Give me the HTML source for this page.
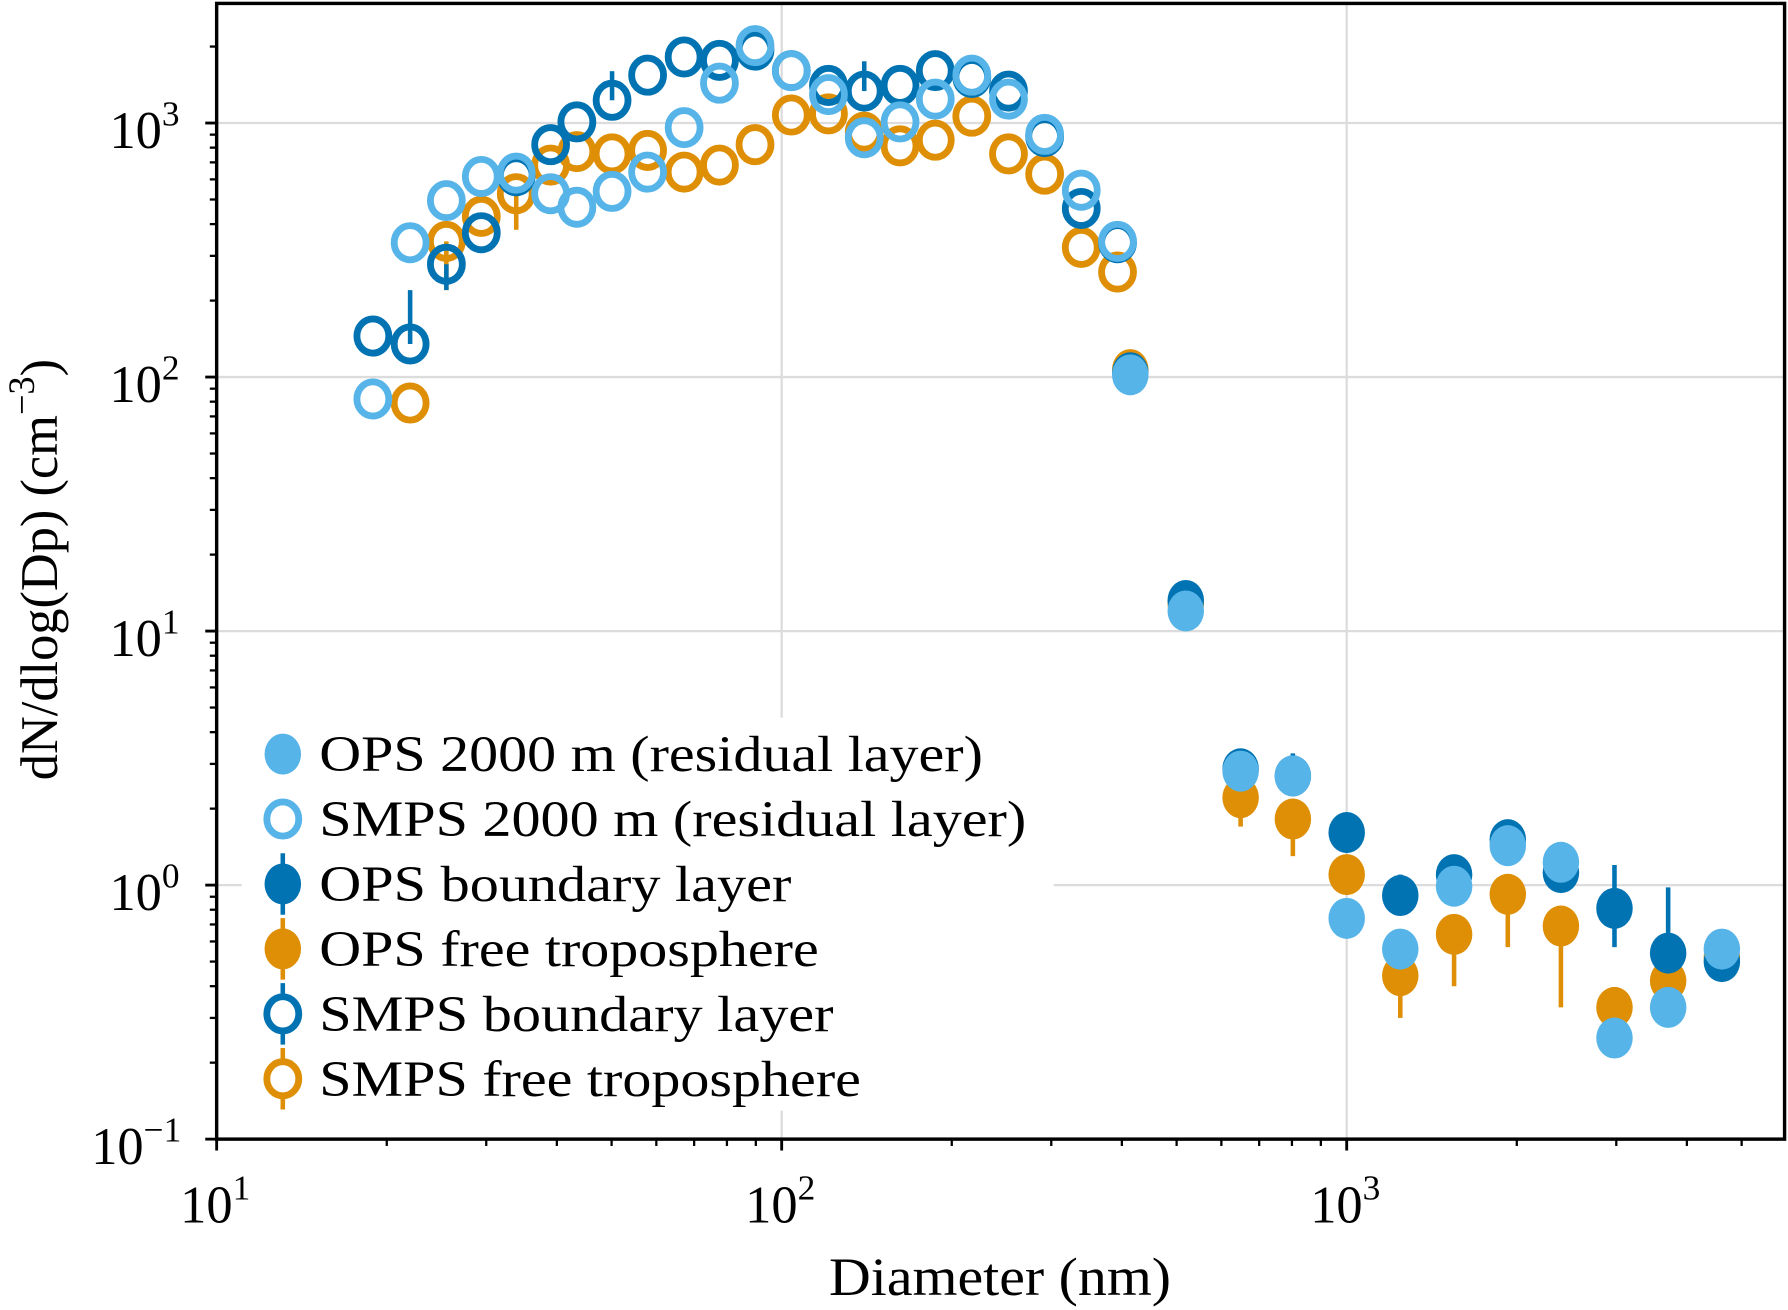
<!DOCTYPE html>
<html><head><meta charset="utf-8"><style>
html,body{margin:0;padding:0;background:#fff;}
svg{display:block;}
text{font-family:"Liberation Serif",serif;fill:#000;}
</style></head><body>
<svg id="chart" width="1788" height="1310" viewBox="0 0 1568 1150" preserveAspectRatio="none" xmlns="http://www.w3.org/2000/svg">
<g id="grid"></g>
<g id="marks"></g>
<g id="legend"></g>
<g id="axes"></g>
</svg>
<script>
const smpsD=[18.9,22.0,25.5,29.4,33.9,39.0,43.4,50.1,57.9,67.2,77.6,89.7,104,121,140,162,187,217,252,292,339,393];
const smpsBL=[145,135,278,370,620,822,1010,1229,1543,1820,1765,1936,1608,1406,1336,1406,1608,1511,1336,884,461,338];
const smpsRL=[82,338,495,616,635,527,466,538,641,959,1435,2018,1608,1294,875,1010,1242,1543,1242,902,544,342];
const smpsFT=[null,79,342,429,527,683,772,756,780,641,683,822,1075,1087,921,813,856,1064,756,629,324,259];
const smpsBLlo=[null,null,220,null,null,null,null,null,null,null,null,null,null,null,null,null,null,null,null,null,null,null];
const smpsBLhi=[null,220,null,null,null,null,null,1600,null,null,null,null,null,null,1750,null,null,null,null,null,null,null];
const smpsFTlo=[null,null,220,null,380,null,null,null,null,null,null,null,null,null,null,null,null,null,null,null,null,null];
const opsD=[414,519,649,803,1000,1244,1549,1928,2394,2978,3706,4613];
const opsRL=[102,12.0,2.81,2.69,0.74,0.56,0.99,1.43,1.23,0.25,0.33,0.56];
const opsBL=[104,13.2,2.87,2.69,1.61,0.91,1.10,1.51,1.12,0.81,0.54,0.50];
const opsFT=[107,12.8,2.21,1.82,1.10,0.44,0.64,0.92,0.69,0.33,0.42,0.52];
const opsBLlo=[null,null,null,null,1.40,0.76,null,null,null,0.57,null,null];
const opsBLhi=[null,null,null,3.3,1.85,1.10,null,1.75,null,1.20,0.98,null];
const opsFTlo=[null,null,1.7,1.3,null,0.30,0.40,0.57,0.33,null,null,null];
const opsFThi=[null,null,null,null,null,null,null,null,null,null,null,null];
const xTicks=[10,100,1000];
const xTickExp=["1","2","3"];
const yTicks=[0.1,1,10,100,1000];
const yTickExp=["\u22121","0","1","2","3"];
const legendLabels=["OPS 2000 m (residual layer)","SMPS 2000 m (residual layer)","OPS boundary layer","OPS free troposphere","SMPS boundary layer","SMPS free troposphere"];

const L=190,R=1565,T=3,B=1000;
const X=d=>190+(Math.log10(d)-1)*495.5;
const Y=v=>108-(Math.log10(v)-3)*223;
const NS="http://www.w3.org/2000/svg";
const C={lb:"#56B4E9",db:"#0173B2",or:"#DE8F05"};
function mk(tag,attrs,parent){const e=document.createElementNS(NS,tag);for(const k in attrs)e.setAttribute(k,attrs[k]);parent.appendChild(e);return e;}
const grid=document.getElementById('grid'),marks=document.getElementById('marks'),legend=document.getElementById('legend'),axes=document.getElementById('axes');

xTicks.forEach(t=>{const l=mk('line',{x1:X(t),x2:X(t),y1:T,y2:B,stroke:'#dcdcdc','stroke-width':2},grid);

});
yTicks.forEach(t=>{const l=mk('line',{x1:L,x2:R,y1:Y(t),y2:Y(t),stroke:'#dcdcdc','stroke-width':2},grid);

});

function series(xs,ys,lo,hi,col,open,name){
  const g=mk('g',{},marks);
  
  
  xs.forEach((d,i)=>{
    if(ys[i]==null)return;
    const cx=X(d),cy=Y(ys[i]);
    if(lo&&lo[i]!=null){const e=mk('line',{x1:cx,x2:cx,y1:cy,y2:Y(lo[i]),stroke:col,'stroke-width':4},g);
      
      }
    if(hi&&hi[i]!=null){const e=mk('line',{x1:cx,x2:cx,y1:cy,y2:Y(hi[i]),stroke:col,'stroke-width':4},g);
      
      }
    const c=open?mk('ellipse',{cx:cx,cy:cy,rx:14,ry:15,fill:'none',stroke:col,'stroke-width':6},g):mk('ellipse',{cx:cx,cy:cy,rx:16,ry:18,fill:col},g);
    
    
  });
}
series(smpsD,smpsFT,smpsFTlo,null,C.or,true,'smps-free-troposphere');
series(smpsD,smpsBL,smpsBLlo,smpsBLhi,C.db,true,'smps-boundary-layer');
series(smpsD,smpsRL,null,null,C.lb,true,'smps-residual-layer');
series(opsD,opsFT,opsFTlo,opsFThi,C.or,false,'ops-free-troposphere');
series(opsD,opsBL,opsBLlo,opsBLhi,C.db,false,'ops-boundary-layer');
series(opsD,opsRL,null,null,C.lb,false,'ops-residual-layer');

// legend
mk('rect',{x:212,y:630,width:712,height:345,fill:'#fff'},legend);
const lcols=[C.lb,C.lb,C.db,C.or,C.db,C.or],lopen=[false,true,false,false,true,true],lerr=[false,false,true,true,true,true];
const lwidth=[582,620,414,438,451,475];
legendLabels.forEach((s,i)=>{
  const y=662+i*57;
  const g=mk('g',{},legend);
  
  
  if(lerr[i])mk('line',{x1:248,x2:248,y1:y-27,y2:y+27,stroke:lcols[i],'stroke-width':4},g);
  if(lopen[i])mk('ellipse',{cx:248,cy:y,rx:14,ry:15,fill:'#fff',stroke:lcols[i],'stroke-width':6},g);
  else mk('ellipse',{cx:248,cy:y,rx:16,ry:18,fill:lcols[i]},g);
  const t=mk('text',{x:280,y:y+15,'font-size':45,textLength:lwidth[i],lengthAdjust:'spacingAndGlyphs'},g);t.textContent=s;
});

// axes
mk('rect',{x:L,y:T,width:R-L,height:B-T,fill:'none',stroke:'#000','stroke-width':3},axes);
for(let dec=1;dec<4;dec++)for(let m=1;m<10;m++){const v=m*Math.pow(10,dec);if(v>5960)break;
  mk('line',{x1:X(v),x2:X(v),y1:B,y2:B+(m==1?10:6),stroke:'#000','stroke-width':m==1?2.5:2},axes);}
for(let dec=-1;dec<4;dec++)for(let m=1;m<10;m++){const v=m*Math.pow(10,dec);if(Y(v)<T)break;
  mk('line',{x1:L,x2:L-(m==1?10:6),y1:Y(v),y2:Y(v),stroke:'#000','stroke-width':m==1?2.5:2},axes);}
xTicks.forEach((t,i)=>{const tx=mk('text',{x:X(t)-32,y:1073,'font-size':46},axes);
  
  
  tx.innerHTML='10<tspan dy="-20" font-size="31">'+xTickExp[i]+'</tspan>';});
yTicks.forEach((t,i)=>{const tx=mk('text',{x:i==0?80:96,y:Y(t)+22,'font-size':46},axes);
  
  
  tx.innerHTML='10<tspan dy="-20" font-size="31">'+yTickExp[i]+'</tspan>';});
const xl=mk('text',{x:727,y:1137,'font-size':47,textLength:300,lengthAdjust:'spacingAndGlyphs'},axes);xl.textContent='Diameter (nm)';


const yl=mk('text',{x:0,y:0,'font-size':46,'text-anchor':'middle',transform:'translate(50,500) rotate(-90)'},axes);


yl.innerHTML='dN/dlog(Dp) (cm<tspan dy="-20" font-size="32">\u22123</tspan><tspan dy="20">)</tspan>';
</script>
</body></html>
